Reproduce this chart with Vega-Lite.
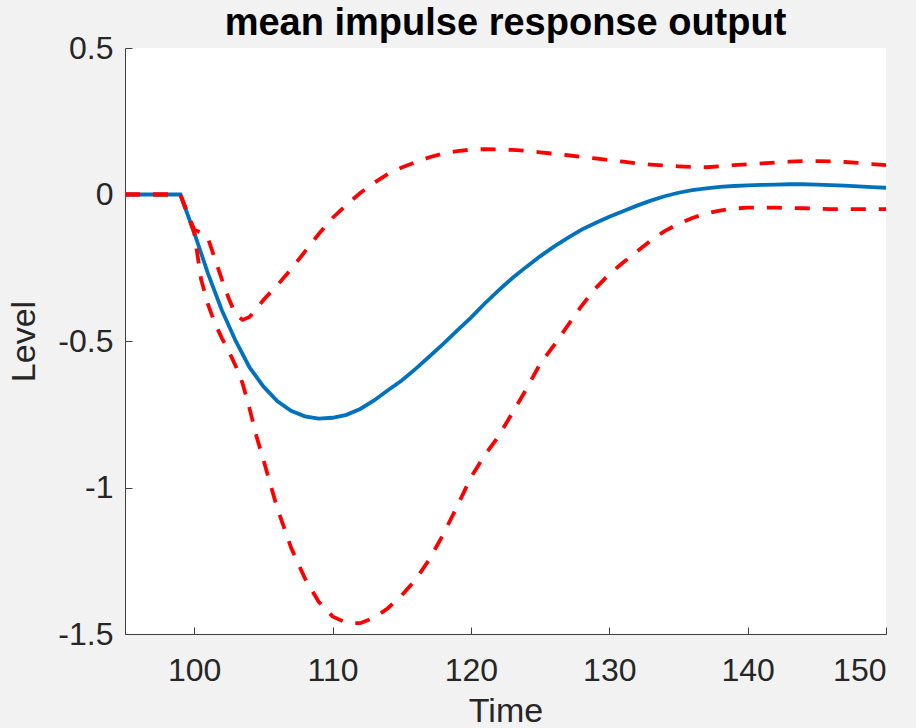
{
  "$schema": "https://vega.github.io/schema/vega-lite/v6.json",
  "autosize": "none",
  "width": 761,
  "height": 586,
  "padding": {"left": 125, "top": 48, "right": 30, "bottom": 94},
  "background": "#f2f2f2",
  "config": {
    "view": {"fill": "white", "stroke": null},
    "font": "Liberation Sans"
  },
  "title": {
    "text": "mean impulse response output",
    "font": "Liberation Sans",
    "fontSize": 38,
    "fontWeight": "bold",
    "color": "black",
    "anchor": "middle",
    "frame": "group",
    "baseline": "alphabetic",
    "offset": -41
  },
  "datasets": {
    "mean": [
      {"t": 95, "y": 0}, {"t": 96, "y": 0}, {"t": 97, "y": 0}, {"t": 98, "y": 0}, {"t": 99, "y": 0},
      {"t": 100, "y": -0.13}, {"t": 101, "y": -0.27}, {"t": 102, "y": -0.395}, {"t": 103, "y": -0.5},
      {"t": 104, "y": -0.59}, {"t": 105, "y": -0.655}, {"t": 106, "y": -0.705}, {"t": 107, "y": -0.738},
      {"t": 108, "y": -0.757}, {"t": 109, "y": -0.765}, {"t": 110, "y": -0.762}, {"t": 111, "y": -0.752},
      {"t": 112, "y": -0.732}, {"t": 113, "y": -0.703}, {"t": 114, "y": -0.668}, {"t": 115, "y": -0.635},
      {"t": 116, "y": -0.595}, {"t": 117, "y": -0.553}, {"t": 118, "y": -0.51}, {"t": 119, "y": -0.465},
      {"t": 120, "y": -0.42}, {"t": 121, "y": -0.372}, {"t": 122, "y": -0.327}, {"t": 123, "y": -0.285},
      {"t": 124, "y": -0.247}, {"t": 125, "y": -0.211}, {"t": 126, "y": -0.178}, {"t": 127, "y": -0.148},
      {"t": 128, "y": -0.12}, {"t": 129, "y": -0.097}, {"t": 130, "y": -0.076}, {"t": 131, "y": -0.057},
      {"t": 132, "y": -0.038}, {"t": 133, "y": -0.021}, {"t": 134, "y": -0.006}, {"t": 135, "y": 0.006},
      {"t": 136, "y": 0.015}, {"t": 137, "y": 0.021}, {"t": 138, "y": 0.026}, {"t": 139, "y": 0.029},
      {"t": 140, "y": 0.031}, {"t": 141, "y": 0.033}, {"t": 142, "y": 0.034}, {"t": 143, "y": 0.035},
      {"t": 144, "y": 0.035}, {"t": 145, "y": 0.034}, {"t": 146, "y": 0.032}, {"t": 147, "y": 0.03},
      {"t": 148, "y": 0.028}, {"t": 149, "y": 0.025}, {"t": 150, "y": 0.023}
    ],
    "bands": [
      {"s": "upper", "t": 95, "y": 0}, {"s": "upper", "t": 96, "y": 0}, {"s": "upper", "t": 97, "y": 0},
      {"s": "upper", "t": 98, "y": 0}, {"s": "upper", "t": 99, "y": 0}, {"s": "upper", "t": 100, "y": -0.12},
      {"s": "upper", "t": 100.5, "y": -0.13}, {"s": "upper", "t": 101, "y": -0.15}, {"s": "upper", "t": 101.5, "y": -0.22},
      {"s": "upper", "t": 102, "y": -0.29}, {"s": "upper", "t": 102.5, "y": -0.355}, {"s": "upper", "t": 103, "y": -0.41},
      {"s": "upper", "t": 103.5, "y": -0.428}, {"s": "upper", "t": 104, "y": -0.418}, {"s": "upper", "t": 104.5, "y": -0.39},
      {"s": "upper", "t": 105, "y": -0.36}, {"s": "upper", "t": 106, "y": -0.31}, {"s": "upper", "t": 107, "y": -0.255},
      {"s": "upper", "t": 108, "y": -0.195}, {"s": "upper", "t": 109, "y": -0.135}, {"s": "upper", "t": 110, "y": -0.08},
      {"s": "upper", "t": 111, "y": -0.035}, {"s": "upper", "t": 112, "y": 0.005}, {"s": "upper", "t": 113, "y": 0.04},
      {"s": "upper", "t": 114, "y": 0.07}, {"s": "upper", "t": 115, "y": 0.092}, {"s": "upper", "t": 116, "y": 0.11},
      {"s": "upper", "t": 117, "y": 0.127}, {"s": "upper", "t": 118, "y": 0.14}, {"s": "upper", "t": 119, "y": 0.148},
      {"s": "upper", "t": 120, "y": 0.153}, {"s": "upper", "t": 121, "y": 0.155}, {"s": "upper", "t": 122, "y": 0.154},
      {"s": "upper", "t": 123, "y": 0.152}, {"s": "upper", "t": 124, "y": 0.149}, {"s": "upper", "t": 125, "y": 0.144},
      {"s": "upper", "t": 126, "y": 0.139}, {"s": "upper", "t": 127, "y": 0.134}, {"s": "upper", "t": 128, "y": 0.128},
      {"s": "upper", "t": 129, "y": 0.123}, {"s": "upper", "t": 130, "y": 0.117}, {"s": "upper", "t": 131, "y": 0.112},
      {"s": "upper", "t": 132, "y": 0.106}, {"s": "upper", "t": 133, "y": 0.102}, {"s": "upper", "t": 134, "y": 0.099},
      {"s": "upper", "t": 135, "y": 0.096}, {"s": "upper", "t": 136, "y": 0.094}, {"s": "upper", "t": 137, "y": 0.093},
      {"s": "upper", "t": 138, "y": 0.096}, {"s": "upper", "t": 139, "y": 0.1}, {"s": "upper", "t": 140, "y": 0.103},
      {"s": "upper", "t": 141, "y": 0.106}, {"s": "upper", "t": 142, "y": 0.109}, {"s": "upper", "t": 143, "y": 0.112},
      {"s": "upper", "t": 144, "y": 0.114}, {"s": "upper", "t": 145, "y": 0.114}, {"s": "upper", "t": 146, "y": 0.113},
      {"s": "upper", "t": 147, "y": 0.111}, {"s": "upper", "t": 148, "y": 0.108}, {"s": "upper", "t": 149, "y": 0.104},
      {"s": "upper", "t": 150, "y": 0.1},
      {"s": "lower", "t": 95, "y": 0}, {"s": "lower", "t": 96, "y": 0}, {"s": "lower", "t": 97, "y": 0},
      {"s": "lower", "t": 98, "y": 0}, {"s": "lower", "t": 99, "y": 0}, {"s": "lower", "t": 100, "y": -0.13},
      {"s": "lower", "t": 100.5, "y": -0.29}, {"s": "lower", "t": 101, "y": -0.375}, {"s": "lower", "t": 101.5, "y": -0.44},
      {"s": "lower", "t": 102, "y": -0.49}, {"s": "lower", "t": 102.5, "y": -0.535}, {"s": "lower", "t": 103, "y": -0.585},
      {"s": "lower", "t": 103.5, "y": -0.645}, {"s": "lower", "t": 104, "y": -0.73}, {"s": "lower", "t": 104.5, "y": -0.825},
      {"s": "lower", "t": 105, "y": -0.905}, {"s": "lower", "t": 106, "y": -1.07}, {"s": "lower", "t": 107, "y": -1.205},
      {"s": "lower", "t": 108, "y": -1.31}, {"s": "lower", "t": 109, "y": -1.39}, {"s": "lower", "t": 110, "y": -1.44},
      {"s": "lower", "t": 111, "y": -1.462}, {"s": "lower", "t": 112, "y": -1.463}, {"s": "lower", "t": 113, "y": -1.445},
      {"s": "lower", "t": 114, "y": -1.412}, {"s": "lower", "t": 115, "y": -1.368}, {"s": "lower", "t": 116, "y": -1.315},
      {"s": "lower", "t": 117, "y": -1.245}, {"s": "lower", "t": 118, "y": -1.16}, {"s": "lower", "t": 119, "y": -1.065},
      {"s": "lower", "t": 120, "y": -0.965}, {"s": "lower", "t": 121, "y": -0.89}, {"s": "lower", "t": 122, "y": -0.825},
      {"s": "lower", "t": 123, "y": -0.745}, {"s": "lower", "t": 124, "y": -0.665}, {"s": "lower", "t": 125, "y": -0.578},
      {"s": "lower", "t": 126, "y": -0.515}, {"s": "lower", "t": 127, "y": -0.447}, {"s": "lower", "t": 128, "y": -0.38},
      {"s": "lower", "t": 129, "y": -0.32}, {"s": "lower", "t": 130, "y": -0.272}, {"s": "lower", "t": 131, "y": -0.232},
      {"s": "lower", "t": 132, "y": -0.195}, {"s": "lower", "t": 133, "y": -0.157}, {"s": "lower", "t": 134, "y": -0.125},
      {"s": "lower", "t": 135, "y": -0.1}, {"s": "lower", "t": 136, "y": -0.08}, {"s": "lower", "t": 137, "y": -0.065},
      {"s": "lower", "t": 138, "y": -0.055}, {"s": "lower", "t": 139, "y": -0.048}, {"s": "lower", "t": 140, "y": -0.045},
      {"s": "lower", "t": 141, "y": -0.045}, {"s": "lower", "t": 142, "y": -0.045}, {"s": "lower", "t": 143, "y": -0.046},
      {"s": "lower", "t": 144, "y": -0.047}, {"s": "lower", "t": 145, "y": -0.048}, {"s": "lower", "t": 146, "y": -0.05},
      {"s": "lower", "t": 147, "y": -0.05}, {"s": "lower", "t": 148, "y": -0.05}, {"s": "lower", "t": 149, "y": -0.05},
      {"s": "lower", "t": 150, "y": -0.05}
    ]
  },
  "encoding": {
    "x": {
      "field": "t", "type": "quantitative",
      "scale": {"domain": [95, 150], "nice": false, "zero": false},
      "axis": {
        "title": "Time", "values": [100, 110, 120, 130, 140, 150],
        "grid": false, "tickSize": -7, "tickColor": "#404040", "domainColor": "#404040",
        "labelFontSize": 32, "labelColor": "#262626", "labelPadding": 28, "labelFont": "Liberation Sans",
        "titleFontSize": 34, "titleFontWeight": "normal", "titleColor": "#262626", "titlePadding": 8, "titleFont": "Liberation Sans"
      }
    },
    "y": {
      "field": "y", "type": "quantitative",
      "scale": {"domain": [-1.5, 0.5], "nice": false, "zero": false},
      "axis": {
        "title": "Level", "values": [-1.5, -1, -0.5, 0, 0.5], "format": "~g",
        "labelExpr": "replace(datum.label, '\u2212', '-')",
        "grid": false, "tickSize": -7, "tickColor": "#404040", "domainColor": "#404040",
        "labelFontSize": 32, "labelColor": "#262626", "labelPadding": 19, "labelFont": "Liberation Sans",
        "titleFontSize": 34, "titleFontWeight": "normal", "titleColor": "#262626", "titlePadding": 16, "titleFont": "Liberation Sans"
      }
    }
  },
  "layer": [
    {
      "data": {"name": "mean"},
      "mark": {"type": "line", "color": "#0072BD", "strokeWidth": 3.8, "clip": true}
    },
    {
      "data": {"name": "bands"},
      "mark": {"type": "line", "color": "#FF0000", "strokeWidth": 3.8, "strokeDash": [15, 13], "clip": true},
      "encoding": {"detail": {"field": "s"}}
    }
  ]
}
